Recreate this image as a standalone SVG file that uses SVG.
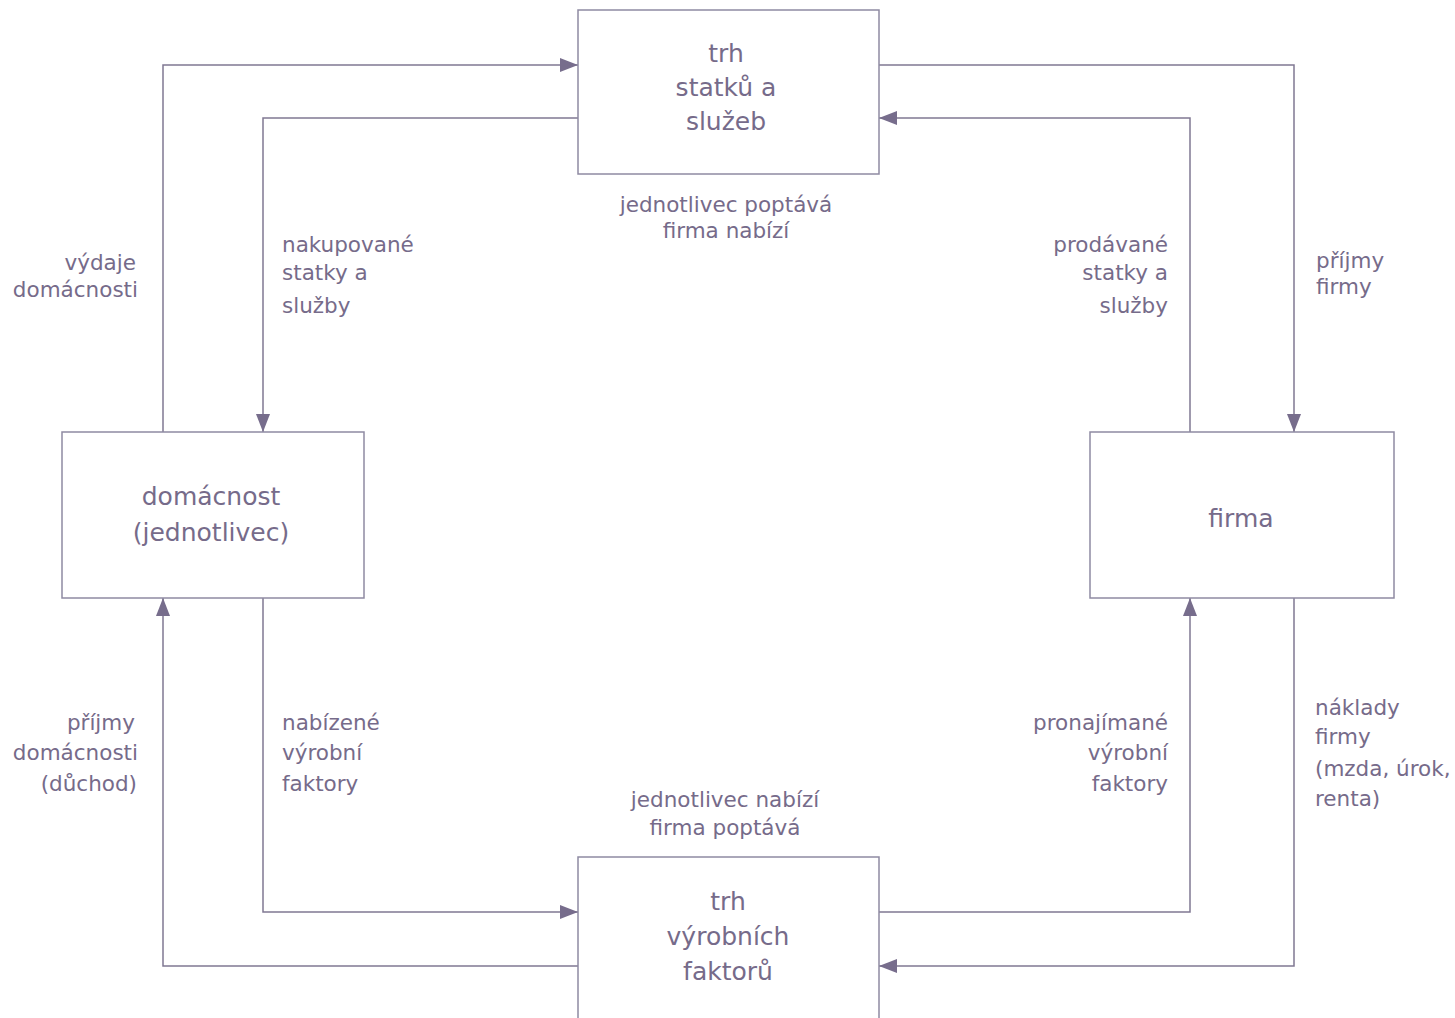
<svg xmlns="http://www.w3.org/2000/svg" width="1455" height="1018" viewBox="0 0 1455 1018">
<style>
.box{fill:#ffffff;stroke:#8f8aa2;stroke-width:1.5}
.ln{fill:none;stroke:#807893;stroke-width:1.5}
.t{font-family:"DejaVu Sans",sans-serif;fill:#766b8a}
.title{font-size:25px}
.lbl{font-size:21.5px}
.c{text-anchor:middle}
.r{text-anchor:end}
</style>
<defs>
<marker id="ah" viewBox="0 0 18 14" refX="18" refY="7" markerWidth="18" markerHeight="14" markerUnits="userSpaceOnUse" orient="auto">
<path d="M0,0 L18,7 L0,14 Z" fill="#776d8c"/>
</marker>
</defs>
<rect width="1455" height="1018" fill="#ffffff"/>
<g id="connectors">
<path class="ln" d="M163,432 V65 H578" marker-end="url(#ah)"/>
<path class="ln" d="M578,118 H263 V432" marker-end="url(#ah)"/>
<path class="ln" d="M879,65 H1294 V432" marker-end="url(#ah)"/>
<path class="ln" d="M1190,432 V118 H879" marker-end="url(#ah)"/>
<path class="ln" d="M263,598 V912 H578" marker-end="url(#ah)"/>
<path class="ln" d="M578,966 H163 V598" marker-end="url(#ah)"/>
<path class="ln" d="M879,912 H1190 V598" marker-end="url(#ah)"/>
<path class="ln" d="M1294,598 V966 H879" marker-end="url(#ah)"/>
</g>
<g id="trh-statku">
<rect class="box" x="578" y="10" width="301" height="164"/>
<text class="t title c" x="726" y="62">trh</text>
<text class="t title c" x="726" y="96">statků a</text>
<text class="t title c" x="726" y="130">služeb</text>
</g>
<g id="domacnost">
<rect class="box" x="62" y="432" width="302" height="166"/>
<text class="t title c" x="211" y="505">domácnost</text>
<text class="t title c" x="211" y="541">(jednotlivec)</text>
</g>
<g id="firma">
<rect class="box" x="1090" y="432" width="304" height="166"/>
<text class="t title c" x="1241" y="527">firma</text>
</g>
<g id="trh-faktoru">
<rect class="box" x="578" y="857" width="301" height="175"/>
<text class="t title c" x="728" y="910">trh</text>
<text class="t title c" x="728" y="945">výrobních</text>
<text class="t title c" x="728" y="980">faktorů</text>
</g>
<g id="labels">
<text class="t lbl c" x="726" y="212">jednotlivec poptává</text>
<text class="t lbl c" x="726" y="238">firma nabízí</text>
<text class="t lbl r" x="136" y="270">výdaje</text>
<text class="t lbl r" x="138" y="297">domácnosti</text>
<text class="t lbl" x="282" y="252">nakupované</text>
<text class="t lbl" x="282" y="280">statky a</text>
<text class="t lbl" x="282" y="313">služby</text>
<text class="t lbl r" x="1168" y="252">prodávané</text>
<text class="t lbl r" x="1168" y="280">statky a</text>
<text class="t lbl r" x="1168" y="313">služby</text>
<text class="t lbl" x="1316" y="268">příjmy</text>
<text class="t lbl" x="1316" y="294">firmy</text>
<text class="t lbl r" x="135" y="730">příjmy</text>
<text class="t lbl r" x="138" y="760">domácnosti</text>
<text class="t lbl r" x="137" y="791">(důchod)</text>
<text class="t lbl" x="282" y="730">nabízené</text>
<text class="t lbl" x="282" y="760">výrobní</text>
<text class="t lbl" x="282" y="791">faktory</text>
<text class="t lbl r" x="1168" y="730">pronajímané</text>
<text class="t lbl r" x="1168" y="760">výrobní</text>
<text class="t lbl r" x="1168" y="791">faktory</text>
<text class="t lbl" x="1315" y="715">náklady</text>
<text class="t lbl" x="1315" y="744">firmy</text>
<text class="t lbl" x="1315" y="776">(mzda, úrok,</text>
<text class="t lbl" x="1315" y="806">renta)</text>
<text class="t lbl c" x="725" y="807">jednotlivec nabízí</text>
<text class="t lbl c" x="725" y="835">firma poptává</text>
</g>
</svg>
